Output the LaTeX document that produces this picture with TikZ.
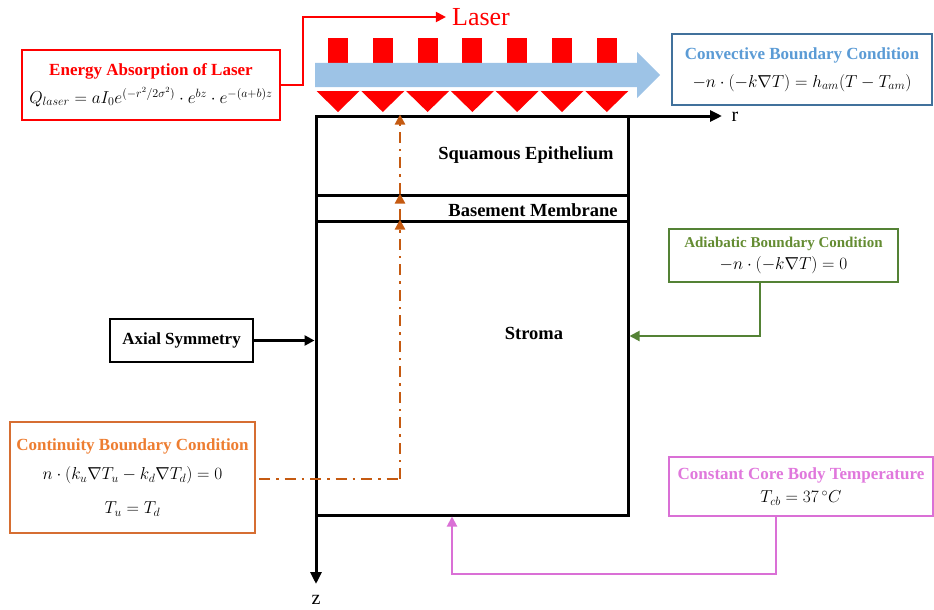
\documentclass[tikz,border=0pt]{standalone}
\usepackage{fontspec}
\setmainfont{Liberation Serif}
\usetikzlibrary{arrows.meta}
\definecolor{laserred}{RGB}{255,0,0}
\definecolor{beamblue}{RGB}{157,195,230}
\definecolor{convline}{RGB}{65,113,156}
\definecolor{convtext}{RGB}{91,155,213}
\definecolor{adialine}{RGB}{84,130,53}
\definecolor{adiatext}{RGB}{100,140,50}
\definecolor{contline}{RGB}{214,110,50}
\definecolor{conttext}{RGB}{237,125,49}
\definecolor{contdash}{RGB}{197,90,17}
\definecolor{coreline}{RGB}{218,112,214}
\definecolor{coretext}{RGB}{224,120,220}

\begin{document}
\begin{tikzpicture}[x=1pt, y=-1pt, >={Triangle[length=10pt,width=10pt]},
  every node/.style={font=\fontsize{17}{20}\selectfont},
  layer/.style={draw, line width=3pt, minimum width=312pt},
  layertext/.style={font=\fontsize{18.5}{22}\selectfont\bfseries},
  condbox/.style={draw, line width=2pt, align=center, inner sep=0pt},
  link/.style={line width=2pt},
  axisline/.style={line width=3pt, >={Triangle[length=12pt,width=11pt]}},
  dashlink/.style={contdash, line width=2.2pt, dash pattern=on 11pt off 6pt on 2.5pt off 6pt}]
  \useasboundingbox (0,0) rectangle (934,610);

  \foreach \i [evaluate=\i as \ax using 338+44.8*\i] in {0,...,6} {
    \fill[laserred] (\ax-10,38) rectangle (\ax+10,64);
    \fill[laserred] (\ax-21.5,91) -- (\ax+21.5,91) -- (\ax,112) -- cycle;
  }
  \fill[beamblue] (315,63) -- (637,63) -- (637,52) -- (660,75) -- (637,98) -- (637,87) -- (315,87) -- cycle;

  \node[layer, minimum height=79pt] (epi) at (472,155.5) {};
  \node[layer, minimum height=26pt] (basement) at (472,208) {};
  \node[layer, minimum height=294pt] (stroma) at (472,368) {};
  \node[layertext] (epitext) at (526,155) {Squamous Epithelium};
  \node[layertext] (basetext) at (533,210) {Basement Membrane};
  \node[layertext] (stromatext) at (534,333) {Stroma};

  \coordinate (origin) at (316,116);
  \coordinate (rtip) at (722,116);
  \coordinate (ztip) at (316,584);
  \node[font=\fontsize{20}{24}\selectfont] (r) at (735,117) {r};
  \node[font=\fontsize{20}{24}\selectfont] (z) at (316,600) {z};
  \draw[axisline, ->] (origin) -- (rtip);
  \draw[axisline, ->] (origin) -- (ztip);

  \node[text=laserred, font=\fontsize{26}{30}\selectfont, inner sep=6pt] (laser) at (481,17) {Laser};
  \node[condbox, draw=laserred, minimum width=258pt, minimum height=70pt] (energy) at (151,85) {{\textcolor{laserred}{\bfseries Energy Absorption of Laser}}\\[8pt] $Q_{laser}=aI_0e^{\left(-r^{2}/2\sigma^{2}\right)}\cdot e^{bz}\cdot e^{-(a+b)z}$};
  \draw[link, laserred, ->] (energy.east) -- ++(22,0) |- (laser.west);

  \node[condbox, draw=convline, minimum width=260pt, minimum height=71pt] (convective) at (802,69.5) {{\textcolor{convtext}{\bfseries Convective Boundary Condition}}\\[8pt] $-n\cdot(-k\nabla T)=h_{am}(T-T_{am})$};

  \node[condbox, draw=adialine, minimum width=229pt, minimum height=53pt] (adiabatic) at (783.5,255.5) {{\fontsize{15}{18}\selectfont\textcolor{adiatext}{\bfseries Adiabatic Boundary Condition}}\\[2pt] $-n\cdot(-k\nabla T)=0$};
  \draw[link, adialine, ->] ([xshift=-23.5pt]adiabatic.south) |- ([yshift=32pt]stroma.east);

  \node[condbox, draw=coreline, minimum width=264pt, minimum height=59pt] (core) at (801,486.5) {{\textcolor{coretext}{\bfseries Constant Core Body Temperature}}\\[3pt] $T_{cb}=37\,{}^{\circ}C$};
  \draw[link, coreline, ->] ([xshift=-25pt]core.south) -- ++(0,57) -| ([xshift=-20pt]stroma.south);

  \node[condbox, draw=black, line width=2.4pt, minimum width=143pt, minimum height=43pt] (axial) at (181.5,340.5) {\bfseries Axial Symmetry};
  \draw[link, line width=2.6pt, ->] (axial) -- (axial -| stroma.west);

  \node[condbox, draw=contline, minimum width=245pt, minimum height=111pt] (continuity) at (132.5,477.5) {{\textcolor{conttext}{\bfseries Continuity Boundary Condition}}\\[9pt] $n\cdot(k_u\nabla T_u-k_d\nabla T_d)=0$\\[14pt] $T_u=T_d$};
  \coordinate (bend) at (400,479);
  \draw[dashlink] ([xshift=3pt]continuity.east |- bend) -- (bend);
  \draw[dashlink, ->] (bend) -- (stroma.north -| bend);
  \draw[dashlink, ->] (stroma.north -| bend) -- (basement.north -| bend);
  \draw[dashlink, ->] (basement.north -| bend) -- (epi.north -| bend);

\end{tikzpicture}
\end{document}
